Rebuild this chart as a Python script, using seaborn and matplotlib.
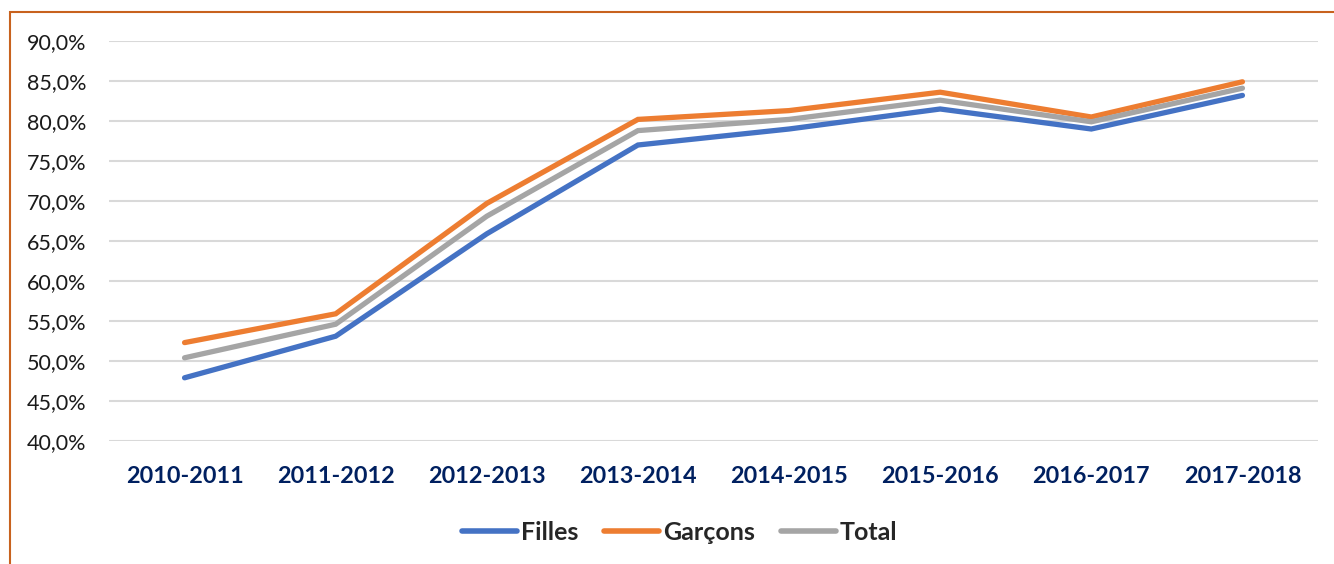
import matplotlib
matplotlib.use("Agg")
import matplotlib.pyplot as plt
import matplotlib.patches as mpatches
from matplotlib.ticker import FuncFormatter, MultipleLocator
import seaborn as sns
import pandas as pd

years = ["2010-2011", "2011-2012", "2012-2013", "2013-2014",
         "2014-2015", "2015-2016", "2016-2017", "2017-2018"]
filles = [47.9, 53.1, 65.9, 77.0, 79.0, 81.5, 79.0, 83.2]
garcons = [52.3, 55.9, 69.7, 80.2, 81.3, 83.6, 80.5, 84.9]
total = [50.4, 54.6, 68.1, 78.8, 80.2, 82.6, 79.9, 84.1]
series_names = ["Filles", "Garçons", "Total"]
colors = ["#4472C4", "#ED7D31", "#A5A5A5"]

df = pd.DataFrame({
    "Année": years * 3,
    "Valeur": filles + garcons + total,
    "Série": [series_names[0]] * 8 + [series_names[1]] * 8 + [series_names[2]] * 8,
})

sns.set_theme(style="white")
plt.rcParams["font.family"] = ["Lato", "DejaVu Sans"]

fig = plt.figure(figsize=(13.34, 5.64), dpi=100)
ax = fig.add_axes([109 / 1334, 1 - 441 / 564, (1318 - 109) / 1334, 400 / 564])

sns.lineplot(data=df, x="Année", y="Valeur", hue="Série", palette=colors,
             hue_order=series_names, sort=False, linewidth=3.8, ax=ax,
             legend=False)
for ln in ax.lines:
    ln.set_solid_capstyle("round")
    ln.set_solid_joinstyle("miter")

ax.set_xlim(-0.5, 7.5)
ax.set_ylim(40, 90)
ax.yaxis.set_major_locator(MultipleLocator(5))
ax.yaxis.set_major_formatter(FuncFormatter(lambda v, p: f"{v:.1f}%".replace(".", ",")))
ax.grid(axis="y", color="#D9D9D9", linewidth=1.5)
ax.set_axisbelow(True)
for s in ax.spines.values():
    s.set_visible(False)
ax.set_xlabel("")
ax.set_ylabel("")
ax.tick_params(axis="y", length=0, pad=16.5, labelsize=15.5, labelcolor="#1a1a1a")
ax.tick_params(axis="x", length=0, pad=18, labelsize=16.8)
for lab in ax.get_xticklabels():
    lab.set_fontweight("bold")
    lab.set_color("#002060")

handles = [plt.Line2D([], [], color=c, linewidth=4, solid_capstyle="round") for c in colors]
leg = fig.legend(handles, series_names, loc="center", bbox_to_anchor=(0.5095, 1 - 532 / 564),
                 ncol=3, frameon=False, handlelength=2.2, handletextpad=0.15,
                 columnspacing=1.05, prop={"weight": "bold", "size": 18})

border = mpatches.Rectangle((10 / 1334, -0.1), 1.2, 1 - 12 / 564 + 0.1,
                            transform=fig.transFigure, fill=False,
                            edgecolor="#C8621E", linewidth=1.5, clip_on=False)
fig.patches.append(border)

fig.savefig("out.png", dpi=100)
